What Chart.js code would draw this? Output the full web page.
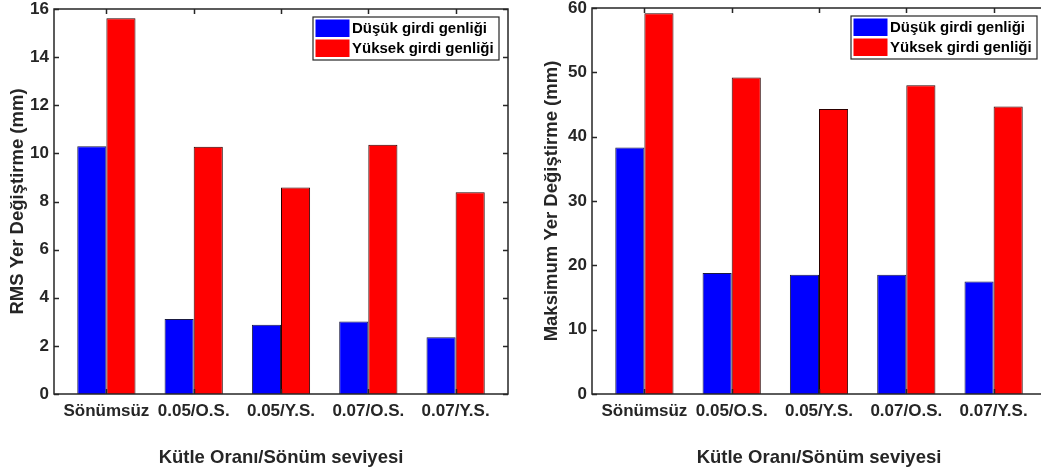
<!DOCTYPE html>
<html>
<head>
<meta charset="utf-8">
<script src="https://cdn.jsdelivr.net/npm/chart.js@4.4.1/dist/chart.umd.min.js"></script>
<style>
    html, body { margin: 0; padding: 0; background: #fff; overflow: hidden; width: 1041px; height: 475px; }
    .panel { position: absolute; top: 0; height: 475px; }
    #leftBox { left: 0; width: 520px; }
    #rightBox { left: 520px; width: 530px; }
</style>
</head>
<body>
<div class="panel" id="leftBox"><canvas id="rmsChart"></canvas></div>
<div class="panel" id="rightBox"><canvas id="maxChart"></canvas></div>
<script>
const categories = ['Sönümsüz', '0.05/O.S.', '0.05/Y.S.', '0.07/O.S.', '0.07/Y.S.'];
const seriesNames = ['Düşük girdi genliği', 'Yüksek girdi genliği'];
const rmsLow = [10.3, 3.12, 2.88, 3.01, 2.36];
const rmsHigh = [15.62, 10.28, 8.58, 10.36, 8.38];
const maxLow = [38.3, 18.8, 18.55, 18.55, 17.5];
const maxHigh = [59.2, 49.2, 44.3, 48.0, 44.7];
const rmsAxis = { min: 0, max: 16, step: 2 };
const maxAxis = { min: 0, max: 60, step: 10 };

const textColor = '#262626';
Chart.defaults.font.family = '"Liberation Sans", Arial, Helvetica, sans-serif';
Chart.defaults.font.weight = 'bold';
Chart.defaults.color = textColor;

// matlab style box, inward ticks and legend in the corner
const matlabAxes = {
    id: 'matlabAxes',
    afterDraw(chart, args, opts) {
        const ctx = chart.ctx;
        const a = chart.chartArea;
        const xs = chart.scales.x, ys = chart.scales.y;
        ctx.save();
        ctx.strokeStyle = textColor;
        ctx.lineWidth = 1.5;
        ctx.beginPath();
        ys.ticks.forEach(t => {
            const py = Math.round(ys.getPixelForValue(t.value)) + 0.5;
            ctx.moveTo(a.left, py); ctx.lineTo(a.left + 5, py);
            ctx.moveTo(a.right - 5, py); ctx.lineTo(a.right, py);
        });
        xs.ticks.forEach(t => {
            const px = Math.round(xs.getPixelForValue(t.value)) + 0.5;
            ctx.moveTo(px, a.top); ctx.lineTo(px, a.top + 5);
            ctx.moveTo(px, a.bottom); ctx.lineTo(px, a.bottom - 5);
        });
        ctx.stroke();
        ctx.strokeRect(a.left, a.top, a.right - a.left, a.bottom - a.top);

        // legend
        const bx = a.right - opts.right - opts.width;
        const by = a.top + opts.top;
        ctx.fillStyle = '#fff';
        ctx.fillRect(bx, by, opts.width, opts.height);
        ctx.lineWidth = 1.2;
        ctx.strokeRect(bx, by, opts.width, opts.height);
        ctx.font = 'bold 15px "Liberation Sans", Arial, sans-serif';
        ctx.textBaseline = 'middle';
        chart.data.datasets.forEach((ds, i) => {
            const ry = by + 2.5 + i * 20;
            ctx.fillStyle = ds.backgroundColor;
            ctx.fillRect(bx + 2.5, ry, 34, 17.5);
            ctx.fillStyle = '#000';
            ctx.fillText(ds.label, bx + 39, ry + 9);
        });
        ctx.restore();
    }
};

function makeChart(canvasId, low, high, axis, yTitle, yWidth, titlePad, pad) {
    const pts = arr => categories.map((c, i) => ({ x: i + 1, y: arr[i] }));
    return new Chart(document.getElementById(canvasId), {
        type: 'bar',
        data: {
            datasets: [
                { label: seriesNames[0], data: pts(low), backgroundColor: '#0000ff', borderColor: '#1a1a40', borderWidth: 1 },
                { label: seriesNames[1], data: pts(high), backgroundColor: '#ff0000', borderColor: '#2a0000', borderWidth: 1 }
            ]
        },
        options: {
            responsive: true,
            maintainAspectRatio: false,
            animation: false,
            layout: { padding: pad },
            categoryPercentage: 0.667,
            barPercentage: 1.0,
            plugins: {
                legend: { display: false },
                tooltip: { enabled: false },
                matlabAxes: { right: 9, top: 8, width: 186, height: 43 }
            },
            scales: {
                x: {
                    type: 'linear',
                    offset: false,
                    min: 0.4,
                    max: 5.6,
                    grid: { display: false, drawTicks: false, offset: false },
                    border: { display: false },
                    afterBuildTicks: s => { s.ticks = categories.map((c, i) => ({ value: i + 1 })); },
                    afterFit: s => { s.height = 81; s.paddingLeft = 0; s.paddingRight = 0; },
                    ticks: {
                        padding: 7,
                        maxRotation: 0,
                        autoSkip: false,
                        font: { size: 17, weight: 'bold' },
                        callback: v => categories[Math.round(v) - 1] || ''
                    },
                    title: {
                        display: true,
                        text: 'Kütle Oranı/Sönüm seviyesi',
                        font: { size: 18.5, weight: 'bold' },
                        padding: { top: 0, bottom: 6 }
                    }
                },
                y: {
                    min: axis.min,
                    max: axis.max,
                    grid: { display: false, drawTicks: false },
                    border: { display: false },
                    afterFit: s => { s.width = yWidth; s.paddingTop = 0; s.paddingBottom = 0; },
                    ticks: {
                        stepSize: axis.step,
                        padding: 5,
                        font: { size: 17, weight: 'bold' }
                    },
                    title: {
                        display: true,
                        text: yTitle,
                        font: { size: 18.5, weight: 'bold' },
                        padding: { top: titlePad, bottom: 0 }
                    }
                }
            }
        },
        plugins: [matlabAxes]
    });
}

makeChart('rmsChart', rmsLow, rmsHigh, rmsAxis, 'RMS Yer Değiştirme (mm)', 54, 7,
    { left: 0, right: 12, top: 9, bottom: 0 });
makeChart('maxChart', maxLow, maxHigh, maxAxis, 'Maksimum Yer Değiştirme (mm)', 72, 21,
    { left: 0, right: 4, top: 8, bottom: 0 });
</script>
</body>
</html>
